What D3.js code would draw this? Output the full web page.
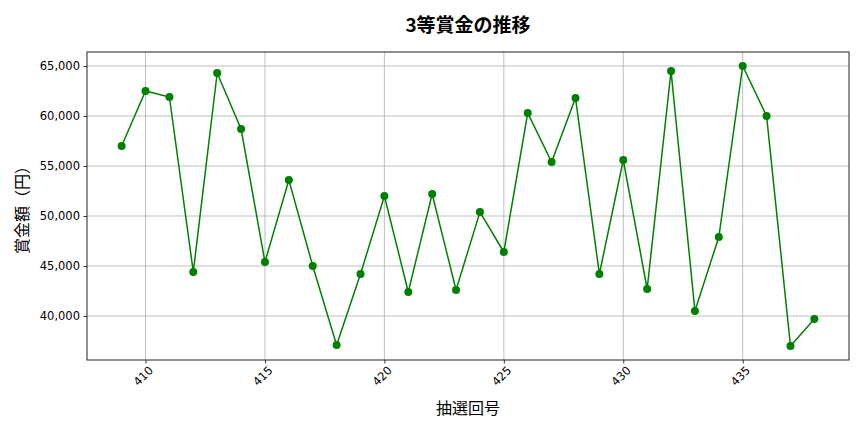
<!DOCTYPE html>
<html>
<head>
<meta charset="utf-8">
<script src="https://cdn.jsdelivr.net/npm/d3@7"></script>
<style>
    body { margin: 0; background: #fff; }
    svg { font-family: "Noto Sans CJK JP", "DejaVu Sans", sans-serif; }
</style>
</head>
<body>
<svg id="chart" width="864" height="432"></svg>
<script>
// draw numbers and third prize amounts
var draws = [409, 410, 411, 412, 413, 414, 415, 416, 417, 418,
             419, 420, 421, 422, 423, 424, 425, 426, 427, 428,
             429, 430, 431, 432, 433, 434, 435, 436, 437, 438];
var prizes = [57000, 62500, 61900, 44400, 64300, 58700, 45400, 53600, 45000, 37100,
              44200, 52000, 42400, 52200, 42600, 50400, 46400, 60300, 55400, 61800,
              44200, 55600, 42700, 64500, 40500, 47900, 65000, 60000, 37000, 39700];
var xTicks = [410, 415, 420, 425, 430, 435];
var yTicks = [40000, 45000, 50000, 55000, 60000, 65000];

var svg = d3.select('#chart'),
    margin = {left: 87, right: 15, top: 52, bottom: 72},
    width = 864 - margin.left - margin.right,
    height = 432 - margin.top - margin.bottom;

var pad = function (lo, hi) { var d = (hi - lo) * 0.05; return [lo - d, hi + d]; };

var x = d3.scaleLinear().domain(pad(d3.min(draws), d3.max(draws))).range([0, width]);
var y = d3.scaleLinear().domain(pad(d3.min(prizes), d3.max(prizes))).range([height, 0]);

var g = svg.append('g').attr('transform', 'translate(' + margin.left + ',' + margin.top + ')');

// grid
g.append('g').selectAll('line.gx').data(xTicks).enter().append('line')
    .attr('x1', x).attr('x2', x).attr('y1', 0).attr('y2', height)
    .attr('stroke', '#b0b0b0').attr('stroke-width', 0.8);
g.append('g').selectAll('line.gy').data(yTicks).enter().append('line')
    .attr('y1', y).attr('y2', y).attr('x1', 0).attr('x2', width)
    .attr('stroke', '#b0b0b0').attr('stroke-width', 0.8);

var xAxis = g.append('g').attr('transform', 'translate(0,' + height + ')')
    .call(d3.axisBottom(x).tickValues(xTicks).tickSizeOuter(0).tickSize(3.5).tickPadding(3));
xAxis.selectAll('text')
    .attr('transform', 'rotate(-45)')
    .attr('text-anchor', 'end')
    .attr('dx', '-0.2em').attr('dy', '0.6em');

var yAxis = g.append('g')
    .call(d3.axisLeft(y).tickValues(yTicks).tickFormat(d3.format(',')).tickSizeOuter(0).tickSize(3.5).tickPadding(3.5));

[xAxis, yAxis].forEach(function (a) {
    a.select('.domain').remove();
    a.selectAll('text').attr('font-size', 11.5).attr('fill', '#000')
        .attr('font-family', '"DejaVu Sans", sans-serif');
    a.selectAll('line').attr('stroke', '#000').attr('stroke-width', 0.8);
});

g.append('rect').attr('width', width).attr('height', height)
    .attr('fill', 'none').attr('stroke', '#222').attr('stroke-width', 1);

var line = d3.line()
    .x(function (d, i) { return x(draws[i]); })
    .y(function (d) { return y(d); });

g.append('path').datum(prizes).attr('d', line)
    .attr('fill', 'none').attr('stroke', 'green').attr('stroke-width', 1.5);

g.selectAll('circle').data(prizes).enter().append('circle')
    .attr('cx', function (d, i) { return x(draws[i]); })
    .attr('cy', y).attr('r', 4).attr('fill', 'green');

svg.append('text').attr('x', margin.left + width / 2).attr('y', 32)
    .attr('text-anchor', 'middle').attr('font-size', 19).attr('font-weight', 'bold')
    .text('3等賞金の推移');

svg.append('text').attr('x', margin.left + width / 2).attr('y', 414)
    .attr('text-anchor', 'middle').attr('font-size', 16)
    .text('抽選回号');

svg.append('text').attr('transform', 'translate(28,' + (margin.top + height / 2) + ') rotate(-90)')
    .attr('text-anchor', 'middle').attr('font-size', 16)
    .text('賞金額（円）');
</script>
</body>
</html>
